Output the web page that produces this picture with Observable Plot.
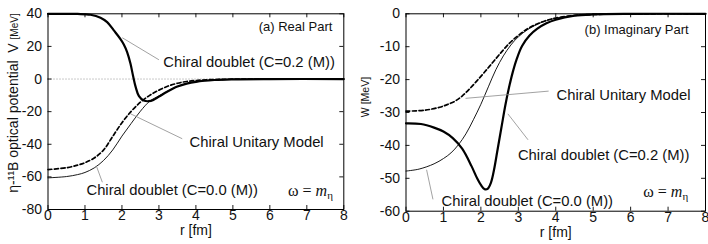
<!DOCTYPE html>
<html>
<head>
<meta charset="utf-8">
<script src="https://cdn.jsdelivr.net/npm/d3@7"></script>
<script src="https://cdn.jsdelivr.net/npm/@observablehq/plot@0.6"></script>
<style>
  html, body { margin: 0; padding: 0; background: #fff; }
  #wrap { position: relative; width: 708px; height: 244px; overflow: hidden; font-family: "Liberation Sans", Arial, sans-serif; }
  #wrap svg { position: absolute; top: 0; }
</style>
</head>
<body>
<div id="wrap"></div>
<script>
// ---------- data ----------
const xTicks = [0, 1, 2, 3, 4, 5, 6, 7, 8];
const yTicksReal = [40, 20, 0, -20, -40, -60, -80];
const yTicksImag = [0, -10, -20, -30, -40, -50, -60];

// (a) Real part V(r) [MeV]
const realDoublet02 = [[0,40],[0.5,40],[0.8,39.9],[1.15,39.4],[1.42,37.6],[1.6,34.9],[1.78,29.8],[1.96,24.5],[2.05,21.2],[2.14,16.5],[2.23,9.5],[2.30,2.0],[2.37,-4.8],[2.46,-10.5],[2.59,-13.2],[2.73,-13.6],[2.85,-12.8],[3.0,-10.8],[3.22,-7.8],[3.5,-4.6],[3.75,-2.8],[4.0,-1.7],[4.5,-0.6],[5,-0.2],[6,-0.02],[8,0]];
const realUnitary = [[0,-55.5],[0.5,-54.4],[0.8,-52.8],[1.0,-51.3],[1.25,-48.4],[1.5,-43.6],[1.75,-35.2],[2.0,-26.8],[2.25,-19.8],[2.5,-14.2],[2.75,-10],[3.0,-6.8],[3.25,-4.3],[3.5,-2.6],[3.75,-1.5],[4.0,-0.9],[4.5,-0.3],[5,-0.1],[6,-0.01],[8,0]];
const realDoublet00 = [[0,-60.6],[0.5,-59.8],[0.8,-58.6],[1.0,-57.3],[1.25,-54.5],[1.5,-50],[1.75,-43.5],[2.0,-35],[2.25,-27.2],[2.5,-19.7],[2.75,-13.6],[3.0,-10.3],[3.25,-7.3],[3.5,-4.6],[3.75,-2.8],[4.0,-1.7],[4.5,-0.6],[5,-0.2],[6,-0.02],[8,0]];

// (b) Imaginary part W(r) [MeV]
const imagDoublet02 = [[0,-33.3],[0.4,-33.5],[0.75,-34.6],[1.0,-35.8],[1.25,-37.8],[1.5,-41],[1.75,-46.3],[1.9,-50],[2.0,-52],[2.1,-53.3],[2.18,-53.2],[2.27,-51.3],[2.35,-47.5],[2.45,-41],[2.55,-34.5],[2.65,-28],[2.75,-22.5],[2.85,-17.8],[2.95,-14.0],[3.1,-9.8],[3.3,-6.6],[3.5,-4.6],[3.75,-2.9],[4.0,-1.8],[4.5,-0.6],[5,-0.2],[6,-0.02],[8,0]];
const imagUnitary = [[0,-29.6],[0.5,-29.3],[0.9,-28.4],[1.1,-27.6],[1.3,-26.6],[1.5,-25.0],[1.7,-22.8],[1.9,-20.3],[2.1,-17.7],[2.3,-15],[2.5,-12.3],[2.75,-9.1],[3.0,-6.6],[3.25,-4.5],[3.5,-3.1],[3.75,-2.0],[4.0,-1.3],[4.5,-0.5],[5,-0.2],[6,-0.02],[8,0]];
const imagDoublet00 = [[0,-47.8],[0.35,-47.2],[0.75,-45.6],[1.0,-44],[1.2,-42.3],[1.4,-39.8],[1.6,-36.5],[1.8,-32.2],[2.0,-27.5],[2.2,-22.2],[2.4,-17],[2.6,-12.8],[2.8,-9.5],[3.0,-7.0],[3.25,-4.8],[3.5,-3.2],[3.75,-2.1],[4.0,-1.35],[4.5,-0.5],[5,-0.2],[6,-0.02],[8,0]];

// annotation labels (data coordinates)
const realLabels = [
  {x: 7.69, y: 32.2, text: "(a) Real Part", anchor: "end", size: 13},
  {x: 3.12, y: 10.3, text: "Chiral doublet (C=0.2 (M))", anchor: "start", size: 14.8},
  {x: 3.83, y: -38.7, text: "Chiral Unitary Model", anchor: "start", size: 14.8},
  {x: 1.04, y: -67.9, text: "Chiral doublet (C=0.0 (M))", anchor: "start", size: 14.8}
];
const realLeaders = [
  {x1: 2.01, y1: 25.3, x2: 3.0, y2: 11.8},
  {x1: 2.23, y1: -21.3, x2: 3.63, y2: -36.6},
  {x1: 1.31, y1: -53.4, x2: 1.47, y2: -63.3}
];
const imagLabels = [
  {x: 7.55, y: -4.9, text: "(b) Imaginary Part", anchor: "end", size: 13},
  {x: 4.02, y: -24.8, text: "Chiral Unitary Model", anchor: "start", size: 14.8},
  {x: 2.99, y: -42.9, text: "Chiral doublet (C=0.2 (M))", anchor: "start", size: 14.8},
  {x: 0.95, y: -57.1, text: "Chiral doublet (C=0.0 (M))", anchor: "start", size: 14.8}
];
const imagLeaders = [
  {x1: 1.59, y1: -25.7, x2: 3.81, y2: -23.5},
  {x1: 2.72, y1: -30.4, x2: 3.26, y2: -38.3},
  {x1: 0.55, y1: -47.4, x2: 0.72, y2: -56.4}
];
const omegaReal = {x: 7.72, y: -69.7};
const omegaImag = {x: 7.55, y: -54.7};

// ---------- drawing ----------
const FONT = "Liberation Sans, Arial, Helvetica, sans-serif";

function panel(cfg) {
  const {left, width, ml, mr, mt, mb, yDomain, yTicks, series, labels, leaders, zero, omega} = cfg;
  const plotW = width - ml - mr, plotH = 244 - mt - mb;
  const tl = 4; // inward tick length in px
  const dx = tl * (8 - 0) / plotW;
  const dy = tl * (yDomain[1] - yDomain[0]) / plotH;
  const [y0, y1] = yDomain;
  const marks = [];
  if (zero) marks.push(Plot.ruleY([0], {stroke: "#777", strokeWidth: 0.8, strokeDasharray: "1,2"}));
  for (const s of series) {
    marks.push(Plot.line(s.data, {x: d => d[0], y: d => d[1], stroke: "#000", strokeWidth: s.w, strokeDasharray: s.dash, curve: "catmull-rom"}));
  }
  marks.push(Plot.link(leaders, {x1: "x1", y1: "y1", x2: "x2", y2: "y2", stroke: "#8a8a8a", strokeWidth: 0.8}));
  for (const anchor of ["start", "end"]) {
    marks.push(Plot.text(labels.filter(d => d.anchor === anchor), {x: "x", y: "y", text: "text", textAnchor: anchor, fontSize: d => d.size, fill: "#111", lineAnchor: "middle"}));
  }
  // inward ticks on all four sides
  marks.push(Plot.ruleX(xTicks, {x: d => d, y1: y0, y2: y0 + dy, stroke: "#000", strokeWidth: 0.9}));
  marks.push(Plot.ruleX(xTicks, {x: d => d, y1: y1, y2: y1 - dy, stroke: "#000", strokeWidth: 0.9}));
  marks.push(Plot.ruleY(yTicks, {y: d => d, x1: 0, x2: dx, stroke: "#000", strokeWidth: 0.9}));
  marks.push(Plot.ruleY(yTicks, {y: d => d, x1: 8, x2: 8 - dx, stroke: "#000", strokeWidth: 0.9}));
  marks.push(Plot.frame({stroke: "#000", strokeWidth: 1}));
  marks.push(Plot.axisX({ticks: xTicks, tickSize: 0, tickPadding: 1, tickFormat: d => String(d), fontSize: 14, label: null}));
  marks.push(Plot.axisY({ticks: yTicks, tickSize: 0, tickPadding: 6, tickFormat: d => String(d), fontSize: 14, label: null}));
  marks.push(Plot.text(["r [fm]"], {frameAnchor: "bottom", dy: 25.5, fontSize: 14, fill: "#111"}));

  const chart = Plot.plot({
    width, height: 244,
    marginLeft: ml, marginRight: mr, marginTop: mt, marginBottom: mb,
    x: {domain: [0, 8]},
    y: {domain: yDomain},
    style: {fontFamily: FONT, color: "#111", background: "transparent", overflow: "visible"},
    marks
  });
  chart.style.left = left + "px";
  const svg = d3.select(chart);
  const xs = chart.scale("x"), ys = chart.scale("y");
  // omega = m_eta
  const t = svg.append("text")
    .attr("x", xs.apply(omega.x)).attr("y", ys.apply(omega.y))
    .attr("text-anchor", "end").attr("dominant-baseline", "middle")
    .attr("font-family", "Liberation Serif, Times New Roman, serif").attr("font-size", 16).attr("fill", "#111");
  t.append("tspan").text("ω = ");
  t.append("tspan").attr("font-style", "italic").text("m");
  t.append("tspan").attr("font-size", 11).attr("dy", 4).text("η");
  return {chart, svg};
}

const wrap = document.getElementById("wrap");

const A = panel({
  left: 0, width: 354, ml: 47.5, mr: 10.7, mt: 13.3, mb: 35,
  yDomain: [-80, 40], yTicks: yTicksReal,
  series: [
    {data: realDoublet00, w: 0.9},
    {data: realUnitary, w: 1.7, dash: "4,2.5"},
    {data: realDoublet02, w: 2.2}
  ],
  labels: realLabels, leaders: realLeaders, zero: true, omega: omegaReal
});
const yl = A.svg.append("text")
  .attr("transform", "translate(18,103) rotate(-90)")
  .attr("text-anchor", "middle").attr("font-family", FONT).attr("font-size", 14).attr("fill", "#111");
yl.append("tspan").text("η-¹¹B optical potential  V ");
yl.append("tspan").attr("font-size", 10).text("[MeV]");
wrap.appendChild(A.chart);

const B = panel({
  left: 354, width: 354, ml: 51.5, mr: 3, mt: 13.3, mb: 33.3,
  yDomain: [-60, 0], yTicks: yTicksImag,
  series: [
    {data: imagDoublet00, w: 0.9},
    {data: imagUnitary, w: 1.7, dash: "4,2.5"},
    {data: imagDoublet02, w: 2.2}
  ],
  labels: imagLabels, leaders: imagLeaders, zero: false, omega: omegaImag
});
B.svg.append("text")
  .attr("transform", "translate(15,97) rotate(-90)")
  .attr("text-anchor", "middle").attr("font-family", FONT).attr("font-size", 10.5).attr("fill", "#111")
  .text("W [MeV]");
wrap.appendChild(B.chart);
</script>
</body>
</html>
